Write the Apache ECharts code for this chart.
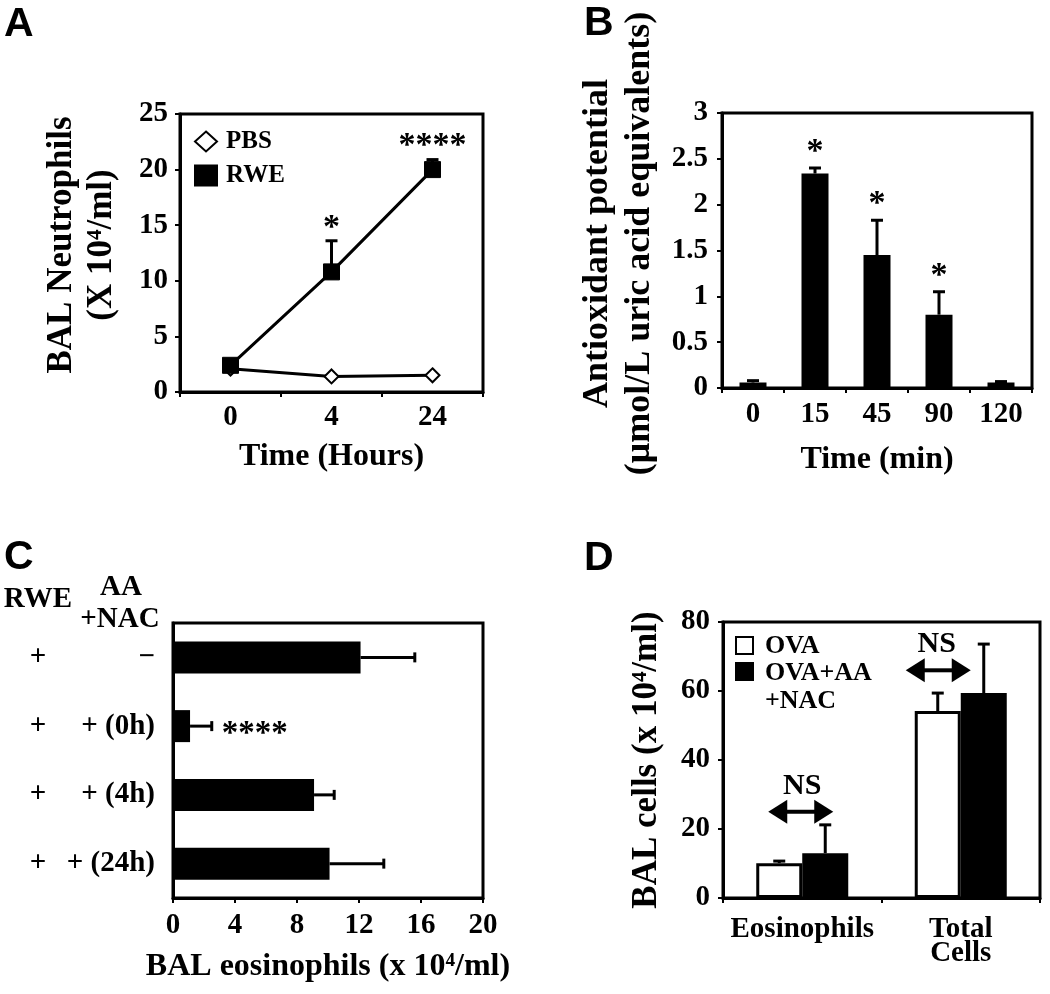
<!DOCTYPE html>
<html><head><meta charset="utf-8">
<script src="https://cdn.jsdelivr.net/npm/echarts@6/dist/echarts.min.js"></script>
<style>html,body{margin:0;padding:0;background:#fff}#c{width:1050px;height:994px}</style>
</head><body><div id="c"></div>
<script>
// ---------- Panel A ----------
const timeA = ['0', '4', '24'];
const pbsA = [2.1, 1.4, 1.5];
const rweA = [2.4, 10.8, 20.0];
const rweErrA = [2.9, 13.6, 20.9];
const sigA = ['', '*', '****'];
const ticksA = { min: 0, max: 25, interval: 5 };
// ---------- Panel B ----------
const timeB = ['0', '15', '45', '90', '120'];
const antiB = [0.06, 2.34, 1.45, 0.80, 0.06];
const antiErrB = [0.08, 2.40, 1.83, 1.05, 0.07];
const sigB = ['', '*', '*', '*', ''];
const ticksB = { min: 0, max: 3, interval: 0.5 };
// ---------- Panel C ----------
const rweC = ['+', '+', '+', '+'];
const aaC = ['\u2212', '+ (0h)', '+ (4h)', '+ (24h)'];
const eosC = [12.1, 1.1, 9.1, 10.1];
const eosErrC = [15.6, 2.5, 10.4, 13.6];
const sigC = ['', '****', '', ''];
const ticksC = { min: 0, max: 20, interval: 4 };
// ---------- Panel D ----------
const catD = ['Eosinophils', 'Total\nCells'];
const ovaD = [10.1, 54.2];
const ovaErrD = [10.7, 59.4];
const aanacD = [13.0, 59.4];
const aanacErrD = [21.2, 73.6];
const nsD = ['NS', 'NS'];
const nsLevelD = [25, 66];
const ticksD = { min: 0, max: 80, interval: 20 };

// ---------- styles ----------
const SERIF = '"Liberation Serif", "Times New Roman", serif';
const SANS = '"Liberation Sans", Arial, sans-serif';
const tickFont = { fontFamily: SERIF, fontWeight: 'bold', fontSize: 29, color: '#000' };
const nameFontH = { fontFamily: SERIF, fontWeight: 'bold', fontSize: 32, color: '#000' };
const nameFontVA = { fontFamily: SERIF, fontWeight: 'bold', fontSize: 35, color: '#000', lineHeight: 40, padding: [0, 0, 0, 16] };
const nameFontVB = { fontFamily: SERIF, fontWeight: 'bold', fontSize: 36, color: '#000', lineHeight: 42, padding: [0, 0, 0, 14] };
const nameFontVD = { fontFamily: SERIF, fontWeight: 'bold', fontSize: 35, color: '#000' };
const axLine = { show: true, lineStyle: { color: '#000', width: 3 } };
const tickOut = { show: true, length: 5, inside: false, lineStyle: { color: '#000', width: 2 } };
const barW_D = 46;
const arrowSpanD = [[-34, 31], [-55, 10]];
const nsShiftD = [0, -24];

function vErr(offsetPx, capHalf) {
  return function (params, api) {
    const i = api.value(0);
    const b = api.coord([i, api.value(1)]);
    const t = api.coord([i, api.value(2)]);
    const x = b[0] + offsetPx;
    return { type: 'group', children: [
      { type: 'line', shape: { x1: x, y1: b[1], x2: x, y2: t[1] }, style: { stroke: '#000', lineWidth: 3 } },
      { type: 'line', shape: { x1: x - capHalf, y1: t[1], x2: x + capHalf, y2: t[1] }, style: { stroke: '#000', lineWidth: 3 } }
    ] };
  };
}
function hErr(capHalf) {
  return function (params, api) {
    const i = api.value(1);
    const b = api.coord([api.value(0), i]);
    const t = api.coord([api.value(2), i]);
    return { type: 'group', children: [
      { type: 'line', shape: { x1: b[0], y1: b[1], x2: t[0], y2: b[1] }, style: { stroke: '#000', lineWidth: 3 } },
      { type: 'line', shape: { x1: t[0], y1: b[1] - capHalf, x2: t[0], y2: b[1] + capHalf }, style: { stroke: '#000', lineWidth: 3 } }
    ] };
  };
}
function vSig(labels, gapPx) {
  return function (params, api) {
    const i = api.value(0);
    const t = api.coord([i, api.value(1)]);
    return { type: 'text', x: t[0], y: t[1] + gapPx, style: {
      text: labels[i], fontFamily: SERIF, fontWeight: 'bold', fontSize: 34, fill: '#000', align: 'center', verticalAlign: 'bottom' } };
  };
}

const chart = echarts.init(document.getElementById('c'), null, { renderer: 'canvas' });

const gridBase = { show: true, borderColor: '#000', borderWidth: 3, backgroundColor: 'transparent', containLabel: false };

const option = {
  backgroundColor: '#fff',
  animation: false,
  grid: [
    Object.assign({ left: 180, top: 114, width: 303, height: 278 }, gridBase),
    Object.assign({ left: 722, top: 113, width: 310, height: 275 }, gridBase),
    Object.assign({ left: 173, top: 623, width: 310, height: 275 }, gridBase),
    Object.assign({ left: 723, top: 622, width: 317, height: 276 }, gridBase)
  ],
  xAxis: [
    { gridIndex: 0, type: 'category', data: timeA, boundaryGap: true,
      axisLine: axLine, axisTick: Object.assign({ alignWithLabel: false }, tickOut),
      axisLabel: Object.assign({ margin: 11, interval: 0 }, tickFont), splitLine: { show: false },
      name: 'Time (Hours)', nameLocation: 'middle', nameGap: 49, nameTextStyle: nameFontH },
    { gridIndex: 1, type: 'category', data: timeB, boundaryGap: true,
      axisLine: axLine, axisTick: Object.assign({ alignWithLabel: false }, tickOut),
      axisLabel: Object.assign({ margin: 12, interval: 0 }, tickFont), splitLine: { show: false },
      name: 'Time (min)', nameLocation: 'middle', nameGap: 56, nameTextStyle: nameFontH },
    { gridIndex: 2, type: 'value', min: ticksC.min, max: ticksC.max, interval: ticksC.interval,
      axisLine: axLine, axisTick: tickOut, splitLine: { show: false },
      axisLabel: Object.assign({ margin: 13 }, tickFont),
      name: 'BAL eosinophils (x 10\u2074/ml)', nameLocation: 'middle', nameGap: 53, nameTextStyle: nameFontH },
    { gridIndex: 3, type: 'category', data: catD, boundaryGap: true,
      axisLine: axLine, axisTick: Object.assign({ alignWithLabel: false }, tickOut),
      axisLabel: Object.assign({ margin: 20, lineHeight: 24, interval: 0 }, tickFont), splitLine: { show: false } }
  ],
  yAxis: [
    { gridIndex: 0, type: 'value', min: ticksA.min, max: ticksA.max, interval: ticksA.interval,
      axisLine: axLine, axisTick: tickOut, splitLine: { show: false },
      axisLabel: Object.assign({ margin: 12 }, tickFont),
      name: 'BAL Neutrophils\n(X 10\u2074/ml)', nameLocation: 'middle', nameGap: 58, nameTextStyle: nameFontVA },
    { gridIndex: 1, type: 'value', min: ticksB.min, max: ticksB.max, interval: ticksB.interval,
      axisLine: axLine, axisTick: tickOut, splitLine: { show: false },
      axisLabel: Object.assign({ margin: 14 }, tickFont),
      name: 'Antioxidant potential\n(\u03bcmol/L uric acid equivalents)', nameLocation: 'middle', nameGap: 61, nameTextStyle: nameFontVB },
    { gridIndex: 2, type: 'category', data: aaC, inverse: true, boundaryGap: true,
      axisLine: axLine, axisTick: { show: false }, splitLine: { show: false },
      axisLabel: Object.assign({ margin: 18, interval: 0,
        formatter: function (v, i) { return '{a|' + rweC[i] + '}{b|' + aaC[i] + '}'; },
        rich: { a: Object.assign({ width: 40, align: 'center' }, tickFont), b: Object.assign({ width: 97, align: 'right' }, tickFont) } }, tickFont) },
    { gridIndex: 3, type: 'value', min: ticksD.min, max: ticksD.max, interval: ticksD.interval,
      axisLine: axLine, axisTick: tickOut, splitLine: { show: false },
      axisLabel: Object.assign({ margin: 13 }, tickFont),
      name: 'BAL cells (x 10\u2074/ml)', nameLocation: 'middle', nameGap: 59, nameTextStyle: nameFontVD }
  ],
  legend: [{
    orient: 'vertical', left: 189, top: 124, itemWidth: 22, itemHeight: 20, itemGap: 9,
    data: [{ name: 'PBS', icon: 'diamond' }, { name: 'RWE', icon: 'rect' }],
    textStyle: { fontFamily: SERIF, fontWeight: 'bold', fontSize: 25, color: '#000', padding: [0, 0, 0, 4] },
    itemStyle: { borderWidth: 2 }
  }],
  series: [
    // Panel A
    { name: 'PBS', type: 'line', xAxisIndex: 0, yAxisIndex: 0, data: pbsA,
      symbol: 'diamond', symbolSize: 14, lineStyle: { color: '#000', width: 3 },
      itemStyle: { color: '#fff', borderColor: '#000', borderWidth: 2 }, z: 3 },
    { name: 'RWE', type: 'line', xAxisIndex: 0, yAxisIndex: 0, data: rweA,
      symbol: 'rect', symbolSize: 16, lineStyle: { color: '#000', width: 3 },
      itemStyle: { color: '#000', borderColor: '#000' }, z: 4 },
    { type: 'custom', xAxisIndex: 0, yAxisIndex: 0, renderItem: vErr(0, 6),
      data: rweA.map((v, i) => [i, v, rweErrA[i]]), encode: { x: 0, y: [1, 2] }, z: 5, silent: true },
    { type: 'custom', xAxisIndex: 0, yAxisIndex: 0, renderItem: vSig(sigA, 4),
      data: rweErrA.map((v, i) => [i, v]), encode: { x: 0, y: 1 }, z: 5, silent: true },
    // Panel B
    { type: 'bar', xAxisIndex: 1, yAxisIndex: 1, data: antiB, barWidth: 27, itemStyle: { color: '#000' } },
    { type: 'custom', xAxisIndex: 1, yAxisIndex: 1, renderItem: vErr(0, 6),
      data: antiB.map((v, i) => [i, v, antiErrB[i]]), encode: { x: 0, y: [1, 2] }, z: 5, silent: true },
    { type: 'custom', xAxisIndex: 1, yAxisIndex: 1, renderItem: vSig(sigB, 1),
      data: antiErrB.map((v, i) => [i, v]), encode: { x: 0, y: 1 }, z: 5, silent: true },
    // Panel C
    { type: 'bar', xAxisIndex: 2, yAxisIndex: 2, data: eosC, barWidth: 32, itemStyle: { color: '#000' } },
    { type: 'custom', xAxisIndex: 2, yAxisIndex: 2, renderItem: hErr(5),
      data: eosC.map((v, i) => [v, i, eosErrC[i]]), encode: { x: [0, 2], y: 1 }, z: 5, silent: true },
    { type: 'custom', xAxisIndex: 2, yAxisIndex: 2,
      renderItem: function (params, api) {
        const i = api.value(1);
        const p = api.coord([api.value(0), i]);
        return { type: 'text', x: p[0] + 10, y: p[1] + 8, style: {
          text: sigC[i], fontFamily: SERIF, fontWeight: 'bold', fontSize: 33, fill: '#000', align: 'left', verticalAlign: 'middle' } };
      },
      data: eosErrC.map((v, i) => [v, i]), encode: { x: 0, y: 1 }, z: 5, silent: true },
    // Panel D
    { name: 'OVA', type: 'bar', xAxisIndex: 3, yAxisIndex: 3, data: ovaD, barWidth: barW_D, barGap: '0%',
      itemStyle: { color: '#fff', borderColor: '#000', borderWidth: 3 } },
    { name: 'OVA+AA +NAC', type: 'bar', xAxisIndex: 3, yAxisIndex: 3, data: aanacD, barWidth: barW_D, barGap: '0%',
      itemStyle: { color: '#000', borderColor: '#000', borderWidth: 3 } },
    { type: 'custom', xAxisIndex: 3, yAxisIndex: 3, renderItem: vErr(-barW_D / 2, 6),
      data: ovaD.map((v, i) => [i, v, ovaErrD[i]]), encode: { x: 0, y: [1, 2] }, z: 5, silent: true },
    { type: 'custom', xAxisIndex: 3, yAxisIndex: 3, renderItem: vErr(barW_D / 2, 6),
      data: aanacD.map((v, i) => [i, v, aanacErrD[i]]), encode: { x: 0, y: [1, 2] }, z: 5, silent: true },
    { type: 'custom', xAxisIndex: 3, yAxisIndex: 3,
      renderItem: function (params, api) {
        const i = api.value(0);
        const c = api.coord([i, api.value(1)]);
        const x1 = c[0] + arrowSpanD[i][0], x2 = c[0] + arrowSpanD[i][1], y = c[1];
        const hl = 19, hh = 12;
        return { type: 'group', children: [
          { type: 'line', shape: { x1: x1 + hl - 2, y1: y, x2: x2 - hl + 2, y2: y }, style: { stroke: '#000', lineWidth: 4 } },
          { type: 'polygon', shape: { points: [[x1, y], [x1 + hl, y - hh], [x1 + hl, y + hh]] }, style: { fill: '#000' } },
          { type: 'polygon', shape: { points: [[x2, y], [x2 - hl, y - hh], [x2 - hl, y + hh]] }, style: { fill: '#000' } },
          { type: 'text', x: c[0] + nsShiftD[i], y: y - 11, style: { text: nsD[i], fontFamily: SERIF, fontWeight: 'bold', fontSize: 30, fill: '#000', align: 'center', verticalAlign: 'bottom' } }
        ] };
      },
      data: nsLevelD.map((v, i) => [i, v]), encode: { x: 0, y: 1 }, z: 5, silent: true }
  ],
  graphic: [
    { type: 'text', left: 4, top: 4, style: { text: 'A', fontFamily: SANS, fontWeight: 'bold', fontSize: 41, fill: '#000' } },
    { type: 'text', left: 584, top: 3, style: { text: 'B', fontFamily: SANS, fontWeight: 'bold', fontSize: 41, fill: '#000' } },
    { type: 'text', left: 4, top: 537, style: { text: 'C', fontFamily: SANS, fontWeight: 'bold', fontSize: 41, fill: '#000' } },
    { type: 'text', left: 584, top: 538, style: { text: 'D', fontFamily: SANS, fontWeight: 'bold', fontSize: 41, fill: '#000' } },
    // Panel C column headers
    { type: 'text', x: 38, y: 600, style: { text: 'RWE', fontFamily: SERIF, fontWeight: 'bold', fontSize: 29, fill: '#000', align: 'center', verticalAlign: 'middle' } },
    { type: 'text', x: 121, y: 588, style: { text: 'AA', fontFamily: SERIF, fontWeight: 'bold', fontSize: 29, fill: '#000', align: 'center', verticalAlign: 'middle' } },
    { type: 'text', x: 120, y: 620, style: { text: '+NAC', fontFamily: SERIF, fontWeight: 'bold', fontSize: 29, fill: '#000', align: 'center', verticalAlign: 'middle' } },
    // Panel D legend
    { type: 'rect', shape: { x: 736, y: 637, width: 17, height: 17 }, style: { fill: '#fff', stroke: '#000', lineWidth: 2 } },
    { type: 'rect', shape: { x: 736, y: 663, width: 17, height: 17 }, style: { fill: '#000', stroke: '#000', lineWidth: 2 } },
    { type: 'text', x: 765, y: 646, style: { text: 'OVA', fontFamily: SERIF, fontWeight: 'bold', fontSize: 26, fill: '#000', verticalAlign: 'middle' } },
    { type: 'text', x: 765, y: 673, style: { text: 'OVA+AA', fontFamily: SERIF, fontWeight: 'bold', fontSize: 26, fill: '#000', verticalAlign: 'middle' } },
    { type: 'text', x: 765, y: 701, style: { text: '+NAC', fontFamily: SERIF, fontWeight: 'bold', fontSize: 26, fill: '#000', verticalAlign: 'middle' } }
  ]
};
chart.setOption(option);
</script></body></html>
